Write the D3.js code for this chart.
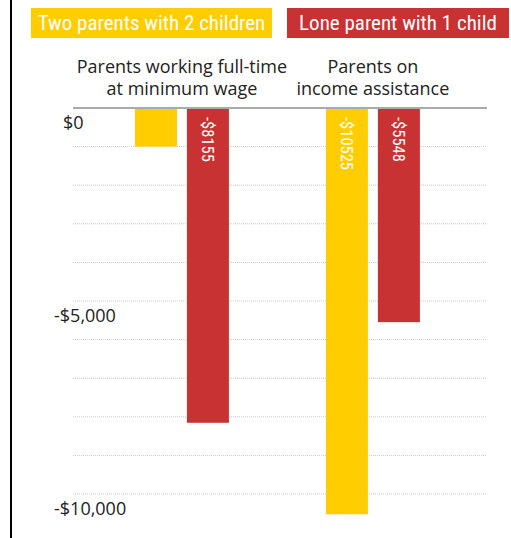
<!DOCTYPE html>
<html>
<head>
<meta charset="utf-8">
<script src="https://cdn.jsdelivr.net/npm/d3@7"></script>
<style>
  html, body { margin: 0; padding: 0; background: #fff; }
  svg { display: block; }
  .cond { font-family: "Liberation Sans Narrow", "Roboto Condensed", "DejaVu Sans Condensed", sans-serif; font-stretch: condensed; }
  .reg { font-family: "Open Sans", "Lato", sans-serif; }
</style>
</head>
<body>
<svg id="chart" width="511" height="538"></svg>
<script>
// ---- data ----
const categories = ["Parents working full-time\nat minimum wage", "Parents on\nincome assistance"];
const seriesNames = ["Two parents with 2 children", "Lone parent with 1 child"];
const twoParents = [-1000, -10525];
const loneParent = [-8155, -5548];
const tickValues = [0, -1000, -2000, -3000, -4000, -5000, -6000, -7000, -8000, -9000, -10000];
const labeledTicks = [0, -5000, -10000];
const colors = ["#ffcd00", "#c83232"];

const svg = d3.select("#chart");
const W = 511, H = 538;

// left border
svg.append("line").attr("x1", 11).attr("x2", 11).attr("y1", 0).attr("y2", H)
  .attr("stroke", "#000").attr("stroke-width", 2);

// legend
const legendBoxes = [[31, 272], [287, 509]];
seriesNames.forEach((name, i) => {
  const [xa, xb] = legendBoxes[i];
  svg.append("rect").attr("x", xa).attr("y", 8).attr("width", xb - xa).attr("height", 30).attr("fill", colors[i]);
  svg.append("text").attr("class", "cond").attr("x", (xa + xb) / 2).attr("y", 30)
    .attr("text-anchor", "middle").attr("fill", "#fff").attr("font-size", 21).text(name);
});

// scales
const plotLeft = 73, plotRight = 487;
const y = d3.scaleLinear().domain([0, -10000]).range([108, 494]);
const x0 = d3.scaleBand().domain(categories).range([plotLeft, plotRight])
  .paddingInner(0.508).paddingOuter(0.338).align(0.48);
const x1 = d3.scaleBand().domain(seriesNames).range([0, x0.bandwidth()]).paddingInner(0.192).paddingOuter(0);

// gridlines
svg.append("g").selectAll("line").data(tickValues.filter(d => d !== 0)).join("line")
  .attr("x1", plotLeft).attr("x2", plotRight)
  .attr("y1", d => y(d)).attr("y2", d => y(d))
  .attr("stroke", "#c8c8c8").attr("stroke-width", 1).attr("stroke-dasharray", "1,1");

// axis labels
const fmt = d => (d < 0 ? "-" : "") + "$" + d3.format(",")(Math.abs(d));
svg.append("g").selectAll("text").data(labeledTicks).join("text")
  .attr("class", "reg")
  .attr("x", d => d < 0 ? 54 : 63)
  .attr("y", d => y(d) + 21)
  .attr("font-size", 18).attr("fill", "#222")
  .text(fmt);

// category labels
categories.forEach((c, i) => {
  const cx = x0(c) + x0.bandwidth() / 2;
  const t = svg.append("text").attr("class", "reg").attr("text-anchor", "middle")
    .attr("font-size", 18).attr("fill", "#222");
  c.split("\n").forEach((line, j) => {
    t.append("tspan").attr("x", cx).attr("y", 73 + j * 22).text(line);
  });
});

// bars
const rows = categories.map((c, i) => ({ cat: c, values: [twoParents[i], loneParent[i]] }));
const groups = svg.append("g").selectAll("g").data(rows).join("g")
  .attr("transform", d => `translate(${x0(d.cat)},0)`);
groups.selectAll("rect").data(d => d.values.map((v, k) => ({ v, s: seriesNames[k], k }))).join("rect")
  .attr("x", d => x1(d.s)).attr("width", x1.bandwidth())
  .attr("y", y(0)).attr("height", d => y(d.v) - y(0))
  .attr("fill", d => colors[d.k]);
groups.selectAll("text").data(d => d.values.map((v, k) => ({ v, s: seriesNames[k], k })).filter(d => d.v < -2000)).join("text")
  .attr("class", "cond")
  .attr("transform", d => `translate(${x1(d.s) + x1.bandwidth() / 2},${y(0) + 9}) rotate(90)`)
  .attr("dy", "0.35em").attr("fill", "#fff").attr("font-size", 16.5)
  .text(d => "-$" + Math.abs(d.v));

// zero line
svg.append("line").attr("x1", plotLeft).attr("x2", plotRight).attr("y1", y(0)).attr("y2", y(0))
  .attr("stroke", "#aaa").attr("stroke-width", 2);
</script>
</body>
</html>
